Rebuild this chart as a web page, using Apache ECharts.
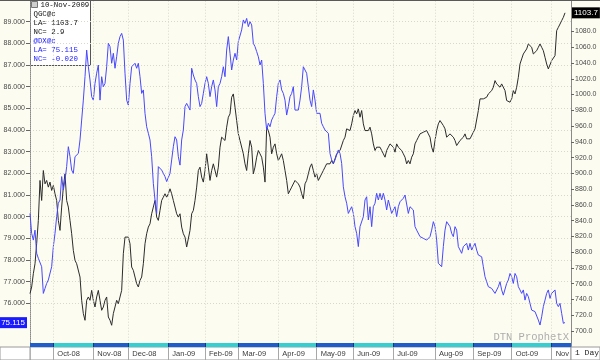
<!DOCTYPE html>
<html><head><meta charset="utf-8">
<script src="https://cdn.jsdelivr.net/npm/echarts@6/dist/echarts.min.js"></script>
<style>html,body{margin:0;padding:0;background:#fdfcf1}#c{width:600px;height:360px}</style>
</head><body><div id="c"></div>
<script>
// QGC@c (gold, right axis) — one value per session
const goldClose = [
747.3,755.8,772.7,785.3,810.7,840.3,891.0,865.6,903.6,886.7,
891.0,882.5,888.9,878.3,884.6,874.1,865.6,840.3,827.6,857.2,
882.5,899.4,865.6,857.2,840.3,823.4,802.2,789.6,785.3,785.3,
768.4,738.9,722.0,713.5,738.9,743.1,738.9,751.5,738.9,730.4,
743.1,751.5,738.9,726.2,730.4,738.9,743.1,717.7,713.5,707.2,
722.0,730.4,738.9,734.6,743.1,751.5,798.0,819.1,819.1,819.1,
810.7,781.1,776.9,768.4,760.0,755.8,764.2,768.4,785.3,810.7,
823.4,831.8,836.0,848.7,857.2,865.6,844.5,840.3,852.9,865.6,
869.8,874.1,869.8,
874.1,880.4,874.1,865.6,857.2,848.7,844.5,848.7,831.8,823.4,
819.1,806.5,806.5,827.6,848.7,852.9,865.6,882.5,903.6,907.9,
895.2,888.9,903.6,924.8,907.9,891.0,903.6,912.1,912.1,895.2,
907.9,933.2,945.9,945.9,941.7,958.6,971.2,975.5,996.6,1000.8,
983.9,967.0,950.1,941.7,941.7,924.8,912.1,903.6,924.8,941.7,
933.2,899.4,907.9,920.5,929.0,924.8,920.5,907.9,888.9,958.6,
954.3,945.9,924.8,933.2,937.4,924.8,916.3,920.5,924.8,916.3,
903.6,891.0,874.1,878.3,882.5,882.5,891.0,891.0,886.7,882.5,
874.1,867.7,
886.7,891.0,899.4,907.9,912.1,903.6,895.2,899.4,891.0,888.9,
899.4,903.6,907.9,912.1,914.2,912.1,916.3,912.1,918.4,924.8,
926.9,929.0,931.1,941.7,945.9,956.5,958.6,954.3,962.8,973.4,
979.7,975.5,981.8,971.2,979.7,962.8,954.3,952.2,954.3,958.6,
950.1,937.4,929.0,933.2,931.1,933.2,929.0,924.8,920.5,929.0,
933.2,937.4,939.6,933.2,926.9,937.4,933.2,931.1,929.0,924.8,
920.5,912.1,916.3,912.1,920.5,924.8,937.4,941.7,945.9,950.1,
950.1,952.2,954.3,954.3,950.1,945.9,933.2,926.9,941.7,954.3,
962.8,
967.0,964.9,960.7,956.5,945.9,945.9,950.1,952.2,945.9,941.7,
935.3,937.4,941.7,941.7,945.9,950.1,943.8,945.9,943.8,945.9,
952.2,956.5,958.6,979.7,994.5,996.6,994.5,994.5,996.6,1000.8,
1000.8,1005.0,1009.3,1017.7,1013.5,1011.4,1009.3,1013.5,1013.5,1005.0,
992.4,992.4,990.3,994.5,1005.0,1000.8,1009.3,1021.9,1038.8,1045.2,
1051.5,1049.4,1057.9,1064.2,1064.2,1060.0,1051.5,1051.5,1055.7,1060.0,
1064.2,1060.0,1055.7,1047.3,1038.8,1032.5,1030.4,1043.1,1045.2,1049.4,
1081.1,1085.3,1089.5,1093.8,1098.0,1103.7
];
// @DX@c (dollar index, left axis)
const dxClose = [
80.15,79.23,78.92,79.38,78.31,78.08,78.00,77.69,76.46,76.69,
76.92,77.08,77.15,77.69,78.62,79.23,80.00,80.62,80.77,81.85,
81.23,81.69,82.31,83.23,82.77,82.15,82.00,82.77,82.85,82.92,
83.54,84.46,85.38,86.46,87.69,86.92,86.31,85.54,85.38,86.15,
86.62,87.00,85.38,86.46,86.00,86.15,86.92,88.00,87.85,87.08,
87.54,86.85,87.38,88.00,88.31,88.46,88.15,86.62,85.38,85.15,
86.15,86.92,87.00,87.08,86.85,87.08,86.46,85.69,85.85,84.77,
84.15,83.85,83.54,82.77,81.54,80.77,80.15,82.31,82.23,82.15,
82.00,81.85,81.62,
81.69,82.00,82.62,83.23,83.69,83.54,82.77,82.38,83.54,84.00,
85.08,85.23,85.15,84.92,86.85,86.54,86.31,86.15,85.54,85.08,
85.23,85.69,86.15,86.46,86.15,85.54,86.00,86.31,85.85,85.08,
86.00,86.15,86.46,86.92,86.46,87.69,88.31,87.54,86.77,87.23,
87.54,87.23,88.08,88.15,88.62,89.08,88.92,89.15,88.77,89.00,
88.85,88.00,87.85,87.62,87.38,87.00,87.23,86.15,84.77,84.00,
84.31,84.15,84.46,84.62,84.77,85.54,86.15,86.31,85.85,85.69,
85.38,84.69,85.08,85.54,85.69,86.00,84.92,84.92,84.92,85.38,
86.00,86.92,
86.77,86.62,86.00,85.38,85.08,85.85,85.38,84.77,84.77,84.77,
84.31,84.15,84.00,84.08,83.85,82.92,82.62,82.46,82.62,82.54,
83.08,82.92,82.46,81.38,80.92,80.62,80.15,80.31,80.46,80.15,
79.54,79.23,78.62,79.54,79.46,80.00,80.77,80.92,79.85,80.46,
79.54,80.46,80.62,81.08,80.77,81.08,80.77,81.08,80.77,80.31,
80.77,80.46,80.15,80.31,80.46,80.00,80.46,80.69,80.77,80.85,
81.00,81.00,80.15,80.46,80.38,80.31,79.54,79.38,79.46,79.08,
79.05,79.00,78.95,78.92,79.00,79.08,79.38,79.77,79.54,78.92,
77.85,
77.92,77.69,78.62,79.38,79.77,79.77,79.54,79.23,79.08,79.54,
79.38,78.62,78.62,78.31,78.62,78.54,78.77,78.46,78.77,78.46,
78.62,78.77,78.46,78.23,78.18,78.15,77.69,77.23,77.00,76.77,
76.77,76.69,76.77,76.46,76.54,76.77,77.00,76.62,76.38,76.46,
76.92,77.08,77.38,77.23,76.92,77.38,77.23,76.77,76.62,76.46,
76.62,76.15,76.46,76.31,76.00,75.69,75.69,75.62,75.54,75.23,
75.00,75.38,75.85,76.15,76.46,76.62,76.23,76.46,76.54,76.62,
76.00,75.85,76.00,75.54,75.08,75.115
];
// session index where each month starts, and its label
const monthStarts = [14, 38, 59, 83, 105, 125, 149, 172, 194, 218, 243, 266, 289, 313];
const monthLabels = ['Oct-08','Nov-08','Dec-08','Jan-09','Feb-09','Mar-09','Apr-09','May-09','Jun-09','Jul-09','Aug-09','Sep-09','Oct-09','Nov'];
const dxTicks = [76,77,78,79,80,81,82,83,84,85,86,87,88,89];
const goldTicks = [700,720,740,760,780,800,820,840,860,880,900,920,940,960,980,1000,1020,1040,1060,1080];
const sessionMax = 324.6;

const chart = echarts.init(document.getElementById('c'), null, {renderer: 'canvas'});
const goldData = goldClose.map((v, i) => [i, v]);
const dxData = dxClose.map((v, i) => [i, v]);
const lastGold = goldClose[goldClose.length - 1];
const lastDx = dxClose[dxClose.length - 1];

const edges = [0].concat(monthStarts, [sessionMax]);
const bandAreas = [];
for (let i = 0; i < edges.length - 1; i++) {
  bandAreas.push([{xAxis: edges[i], itemStyle: {color: i % 2 ? '#35cfd2' : '#1f5ccc'}}, {xAxis: edges[i + 1]}]);
}
const labelOf = {};
monthStarts.forEach((m, i) => { labelOf[m] = monthLabels[i]; });

const axisFont = {fontFamily: 'Liberation Sans', fontSize: 7, color: '#4a4a4a'};

chart.setOption({
  animation: false,
  backgroundColor: '#fdfcf1',
  grid: [
    {left: 30, right: 29, top: 0, height: 346.7},
    {left: 30, right: 29, top: 343, height: 4},
    {left: 30, right: 29, top: 347, height: 13, show: true, backgroundColor: '#ffffff', borderColor: '#9a9a9a', borderWidth: 1}
  ],
  xAxis: [
    {gridIndex: 0, type: 'value', min: 0, max: sessionMax, show: false},
    {gridIndex: 1, type: 'value', min: 0, max: sessionMax, show: false},
    {gridIndex: 2, type: 'value', min: 0, max: sessionMax, interval: 3, position: 'top',
     axisLine: {show: false},
     axisTick: {show: true, inside: true, length: 2, lineStyle: {color: '#8a8a8a'}},
     splitLine: {show: false},
     axisLabel: {show: true, inside: true, margin: 3, customValues: monthStarts, align: 'left',
       formatter: v => '{a|' + (labelOf[v] || '') + '}',
       rich: {a: {fontFamily: 'Liberation Sans', fontSize: 7.5, color: '#3a3a3a', padding: [0, 0, 0, 4]}}}}
  ],
  yAxis: [
    {gridIndex: 0, type: 'value', position: 'left', min: 74, max: 90, interval: 1,
     axisLine: {show: true, lineStyle: {color: '#8a8a8a', type: 'dotted'}},
     axisTick: {show: true, customValues: dxTicks, length: 4, lineStyle: {color: '#666'}},
     axisLabel: Object.assign({customValues: dxTicks, margin: 5, formatter: v => v.toFixed(3)}, axisFont),
     splitLine: {show: true, lineStyle: {color: '#d8d8cc', type: [1, 2], width: 1}}},
    {gridIndex: 0, type: 'value', position: 'right', min: 680, max: 1120, interval: 20,
     axisLine: {show: true, lineStyle: {color: '#8a8a8a'}},
     axisTick: {show: true, customValues: goldTicks, length: 3, lineStyle: {color: '#666'}},
     axisLabel: Object.assign({customValues: goldTicks, margin: 4, formatter: v => v.toFixed(1)}, axisFont),
     splitLine: {show: false}},
    {gridIndex: 1, type: 'value', min: 0, max: 1, show: false},
    {gridIndex: 2, type: 'value', min: 0, max: 1, show: false}
  ],
  series: [
    {name: 'grid', type: 'line', xAxisIndex: 0, yAxisIndex: 0, data: [], silent: true,
     markLine: {silent: true, symbol: 'none', label: {show: false},
       lineStyle: {color: '#d8d8cc', type: [1, 2], width: 1},
       data: monthStarts.map(m => ({xAxis: m}))}},
    {name: 'QGC@c', type: 'line', xAxisIndex: 0, yAxisIndex: 1, data: goldData, showSymbol: false,
     lineStyle: {color: '#2b2b2b', width: 1}, z: 3,
     markLine: {silent: true, symbol: 'none', z: 20,
       lineStyle: {color: 'rgba(0,0,0,0)', width: 0},
       label: {show: true, position: 'end', distance: 1, formatter: lastGold.toFixed(1), backgroundColor: '#000000', color: '#ffffff',
         opacity: 1, fontFamily: 'Liberation Sans', fontSize: 8, padding: [2, 2, 1, 2]},
       data: [{yAxis: lastGold}]}},
    {name: '@DX@c', type: 'line', xAxisIndex: 0, yAxisIndex: 0, data: dxData, showSymbol: false,
     lineStyle: {color: '#4848ff', width: 1}, z: 4,
     markLine: {silent: true, symbol: 'none', z: 20,
       lineStyle: {color: 'rgba(0,0,0,0)', width: 0},
       label: {show: true, position: 'start', distance: 3, formatter: lastDx.toFixed(3), backgroundColor: '#1a1aff', color: '#ffffff',
         opacity: 1, fontFamily: 'Liberation Sans', fontSize: 8, padding: [2, 2, 1, 2]},
       data: [{yAxis: lastDx}]}},
    {name: 'band', type: 'line', xAxisIndex: 1, yAxisIndex: 2, data: [], silent: true,
     markArea: {silent: true, data: bandAreas},
     markLine: {silent: true, symbol: 'none', label: {show: false}, lineStyle: {color: '#0d3a86', width: 1, type: 'solid'},
       data: monthStarts.map(m => ({xAxis: m}))}},
    {name: 'dividers', type: 'line', xAxisIndex: 2, yAxisIndex: 3, data: [], silent: true,
     markLine: {silent: true, symbol: 'none', label: {show: false}, lineStyle: {color: '#a8a8a8', width: 1, type: 'solid'},
       data: monthStarts.map(m => ({xAxis: m}))}}
  ],
  graphic: [
    {type: 'line', shape: {x1: 0, y1: 0.5, x2: 600, y2: 0.5}, style: {stroke: '#5a5a5a', lineWidth: 1}, z: 50},
    {type: 'rect', shape: {x: 0, y: 347, width: 30, height: 13}, style: {fill: '#fff', stroke: '#9a9a9a'}, z: 50},
    {type: 'rect', shape: {x: 571, y: 347, width: 29, height: 13}, style: {fill: '#fff', stroke: '#9a9a9a'}, z: 50},
    {type: 'text', left: 575, top: 349, style: {text: '1 Day', font: '8px "Liberation Mono"', fill: '#222'}, z: 51},
    {type: 'text', right: 31, top: 332, style: {text: 'DTN ProphetX', font: '10.5px "Liberation Mono"', fill: '#adadad'}, z: 5},
    {type: 'group', left: 30, top: 0, z: 60, children: [
      {type: 'rect', shape: {x: 0, y: 0, width: 60, height: 65}, style: {fill: '#ffffff', stroke: '#555555', lineWidth: 1}},
      {type: 'rect', shape: {x: 1, y: 1, width: 6, height: 6}, style: {fill: '#cfcfcf', stroke: '#777'}},
      {type: 'text', x: 10, y: 1, style: {text: '10-Nov-2009', font: '7.4px "Liberation Mono"', fill: '#111'}},
      {type: 'text', x: 3, y: 10, style: {text: 'QGC@c', font: '7.4px "Liberation Mono"', fill: '#111'}},
      {type: 'text', x: 3, y: 19, style: {text: 'LA= 1103.7', font: '7.4px "Liberation Mono"', fill: '#111'}},
      {type: 'text', x: 3, y: 28, style: {text: 'NC= 2.9', font: '7.4px "Liberation Mono"', fill: '#111'}},
      {type: 'text', x: 3, y: 37, style: {text: '@DX@c', font: '7.4px "Liberation Mono"', fill: '#2020ff'}},
      {type: 'text', x: 3, y: 46, style: {text: 'LA= 75.115', font: '7.4px "Liberation Mono"', fill: '#2020ff'}},
      {type: 'text', x: 3, y: 55, style: {text: 'NC= -0.020', font: '7.4px "Liberation Mono"', fill: '#2020ff'}}
    ]}
  ]
});
</script>
</body></html>
